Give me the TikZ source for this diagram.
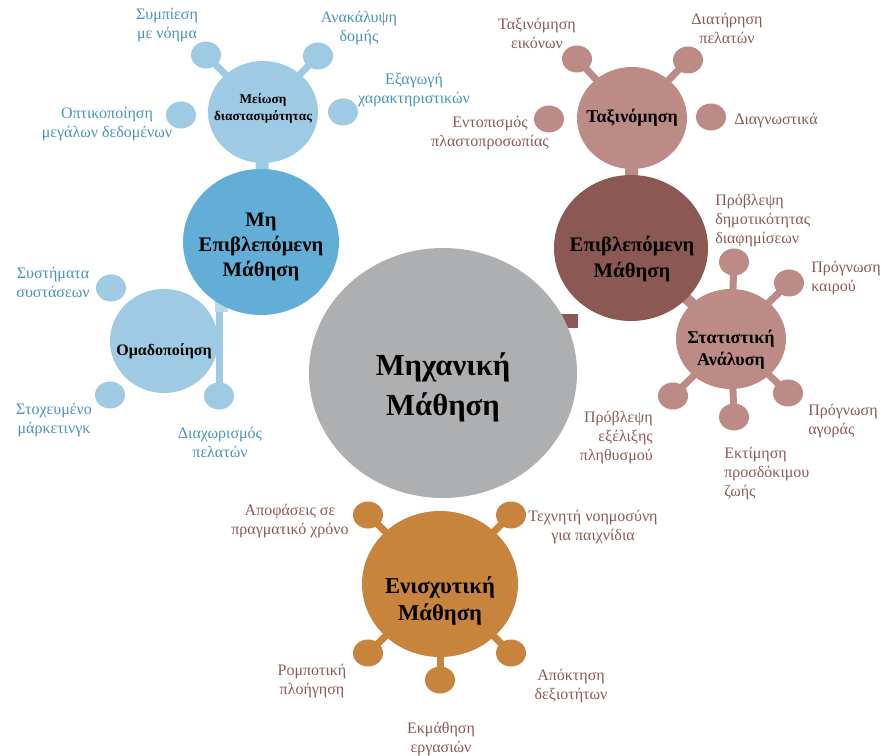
\documentclass[tikz,border=0pt]{standalone}
\usepackage{fontspec}
\setmainfont{Liberation Serif}
\usetikzlibrary{shapes.geometric}

% one drawing unit = one screen pixel
\newdimen\pxu \pxu=0.75pt

\definecolor{mlgray}{HTML}{AEAFB1}
\definecolor{unsblue}{HTML}{62AED6}
\definecolor{lightblue}{HTML}{9FCAE4}
\definecolor{paleblue}{HTML}{B8D8EC}
\definecolor{supbrown}{HTML}{8B5854}
\definecolor{rosy}{HTML}{BD8B86}
\definecolor{rlorange}{HTML}{C8843C}
\definecolor{bluetext}{HTML}{4A93B9}
\definecolor{browntext}{HTML}{8B5A55}

\pgfdeclarelayer{paper}
\pgfdeclarelayer{links}
\pgfsetlayers{paper,links,main}

\tikzset{
  hub/.style={ellipse, inner sep=0pt, draw=none},
  bubble/.style={ellipse, inner sep=0pt, draw=none,
                 minimum width=30\pxu, minimum height=27\pxu},
  spoke/.style={line width=7\pxu},
  stem/.style={line width=13\pxu},
  ttl/.style={align=center, inner sep=0pt, text=black},
  lbl/.style={font=\fontsize{12}{14.25}\selectfont, inner sep=0pt},
  bluelbl/.style={lbl, align=center, text=bluetext},
  brownlbl/.style={lbl, align=center, text=browntext},
}

\begin{document}
\begin{tikzpicture}[x=0.75pt, y=-0.75pt]
\useasboundingbox (0,0) rectangle (883,756);
\begin{pgfonlayer}{paper}
  \fill[white] (0,0) rectangle (883,756);
\end{pgfonlayer}

% ---------- main circles ----------
\node[hub, fill=mlgray, minimum width=268\pxu, minimum height=250\pxu] (ml) at (443,373) {};
\node[hub, fill=unsblue, minimum width=156\pxu, minimum height=146\pxu] (uns) at (261,242) {};
\node[hub, fill=lightblue, minimum width=110\pxu, minimum height=102\pxu] (dim) at (263,112) {};
\node[hub, fill=lightblue, minimum width=108\pxu, minimum height=104\pxu] (clu) at (164,341) {};
\node[hub, fill=supbrown, minimum width=154\pxu, minimum height=146\pxu] (sup) at (631,248) {};
\node[hub, fill=rosy, minimum width=110\pxu, minimum height=102\pxu] (cls) at (632,118) {};
\node[hub, fill=rosy, minimum width=110\pxu, minimum height=100\pxu] (sta) at (731,339) {};
\node[hub, fill=rlorange, minimum width=156\pxu, minimum height=146\pxu] (rl) at (440,584) {};

% ---------- titles ----------
\node[ttl, font=\fontsize{23}{30}\selectfont\bfseries] (t-ml) at (443,387) {Μηχανική\\Μάθηση};
\node[ttl, font=\fontsize{15.5}{19}\selectfont\bfseries] (t-uns) at (261,247) {Μη\\Επιβλεπόμενη\\Μάθηση};
\node[ttl, font=\fontsize{10}{12.75}\selectfont\bfseries] (t-dim) at (263,108) {Μείωση\\διαστασιμότητας};
\node[ttl, font=\fontsize{12}{14}\selectfont\bfseries] (t-clu) at (164,351) {Ομαδοποίηση};
\node[ttl, font=\fontsize{15.5}{19}\selectfont\bfseries] (t-sup) at (632,259) {Επιβλεπόμενη\\Μάθηση};
\node[ttl, font=\fontsize{13.5}{16.5}\selectfont\bfseries] (t-cls) at (632,118) {Ταξινόμηση};
\node[ttl, font=\fontsize{13.5}{16.5}\selectfont\bfseries] (t-sta) at (731,350) {Στατιστική\\Ανάλυση};
\node[ttl, font=\fontsize{17}{20.25}\selectfont\bfseries] (t-rl) at (440,601) {Ενισχυτική\\Μάθηση};

% ---------- leaf bubbles ----------
% dimensionality reduction
\node[bubble, fill=lightblue] (b-comp) at (206,55) {};
\node[bubble, fill=lightblue] (b-struct) at (318,56) {};
\node[bubble, fill=lightblue] (b-feat) at (343,112) {};
\node[bubble, fill=lightblue] (b-vis) at (181,115) {};
% clustering
\node[bubble, fill=lightblue] (b-rec) at (111,288) {};
\node[bubble, fill=lightblue] (b-mkt) at (110,395) {};
\node[bubble, fill=lightblue] (b-seg) at (219,396) {};
% classification
\node[bubble, fill=rosy] (b-img) at (577,59) {};
\node[bubble, fill=rosy] (b-ret) at (688,60) {};
\node[bubble, fill=rosy] (b-diag) at (711,117) {};
\node[bubble, fill=rosy] (b-id) at (549,119) {};
% statistical analysis
\node[bubble, fill=rosy] (b-ads) at (734,262) {};
\node[bubble, fill=rosy] (b-wth) at (789,283) {};
\node[bubble, fill=rosy] (b-mrk) at (788,393) {};
\node[bubble, fill=rosy] (b-life) at (734,417) {};
\node[bubble, fill=rosy] (b-pop) at (673,396) {};
% reinforcement learning
\node[bubble, fill=rlorange] (b-rt) at (368,515) {};
\node[bubble, fill=rlorange] (b-game) at (511,515) {};
\node[bubble, fill=rlorange] (b-robot) at (368,653) {};
\node[bubble, fill=rlorange] (b-task) at (440,680) {};
\node[bubble, fill=rlorange] (b-skill) at (511,653) {};

% ---------- leaf labels ----------
\node[bluelbl] (l-comp) at (167,25) {Συμπίεση\\με νόημα};
\node[bluelbl] (l-struct) at (359,28) {Ανακάλυψη\\δομής};
\node[bluelbl] (l-feat) at (414,90) {Εξαγωγή\\χαρακτηριστικών};
\node[bluelbl] (l-vis) at (107,124) {Οπτικοποίηση\\μεγάλων δεδομένων};
\node[bluelbl] (l-rec) at (53,282) {Συστήματα\\συστάσεων};
\node[bluelbl] (l-mkt) at (54,420) {Στοχευμένο\\μάρκετινγκ};
\node[bluelbl] (l-seg) at (220,442) {Διαχωρισμός\\πελατών};

\node[brownlbl] (l-img) at (537,33) {Ταξινόμηση\\εικόνων};
\node[brownlbl] (l-ret) at (727,28) {Διατήρηση\\πελατών};
\node[brownlbl] (l-diag) at (776,121) {Διαγνωστικά};
\node[brownlbl] (l-id) at (490,133) {Εντοπισμός\\πλαστοπροσωπίας};

\node[brownlbl, align=left, anchor=west] (l-ads) at (715,221) {Πρόβλεψη\\δημοτικότητας\\διαφημίσεων};
\node[brownlbl, align=left, anchor=west] (l-wth) at (811,278) {Πρόγνωση\\καιρού};
\node[brownlbl, align=left, anchor=west] (l-mrk) at (808,421) {Πρόγνωση\\αγοράς};
\node[brownlbl, align=left, anchor=west] (l-life) at (724,474) {Εκτίμηση\\προσδόκιμου\\ζωής};
\node[brownlbl, align=right, anchor=east] (l-pop) at (653,438) {Πρόβλεψη\\εξέλιξης\\πληθυσμού};

\node[brownlbl] (l-rt) at (290,521) {Αποφάσεις σε\\πραγματικό χρόνο};
\node[brownlbl] (l-game) at (593,527) {Τεχνητή νοημοσύνη\\για παιχνίδια};
\node[brownlbl] (l-robot) at (312,681) {Ρομποτική\\πλοήγηση};
\node[brownlbl] (l-task) at (441,739) {Εκμάθηση\\εργασιών};
\node[brownlbl] (l-skill) at (571,686) {Απόκτηση\\δεξιοτήτων};

% ---------- connectors (behind the circles) ----------
\coordinate (gbar) at (578,321);
\coordinate (cbar) at (220.5,292);
\coordinate (ptop) at (221.5,297);
\coordinate (pbot) at (221.5,312);
\begin{pgfonlayer}{links}
  \draw[line width=14\pxu, supbrown] (ml.center |- gbar) -- (gbar);
  \draw[stem, lightblue] (uns.center) -- (dim.center);
  \draw[stem, rosy] (sup.center) -- (cls.center);
  \draw[line width=11\pxu, rosy] (sup.center) -- (sta.center);
  \draw[spoke, lightblue] (b-seg.center) -- (b-seg.center |- cbar);
  \draw[stem, paleblue] (ptop) -- (pbot);

  \draw[spoke, lightblue] (b-comp.center) -- (dim.center);
  \draw[spoke, lightblue] (b-struct.center) -- (dim.center);

  \draw[spoke, rosy] (b-img.center) -- (cls.center);
  \draw[spoke, rosy] (b-ret.center) -- (cls.center);

  \foreach \b in {b-ads,b-wth,b-mrk,b-life,b-pop}
    \draw[spoke, rosy] (\b.center) -- (sta.center);

  \foreach \b in {b-rt,b-game,b-robot,b-task,b-skill}
    \draw[spoke, rlorange] (\b.center) -- (rl.center);
\end{pgfonlayer}
\end{tikzpicture}
\end{document}
